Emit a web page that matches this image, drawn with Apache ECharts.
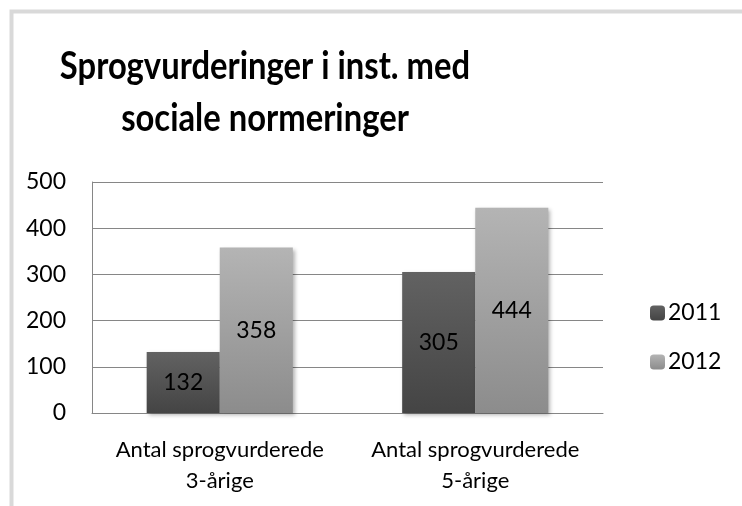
<!DOCTYPE html>
<html>
<head>
<meta charset="utf-8">
<script src="https://cdn.jsdelivr.net/npm/echarts@6/dist/echarts.min.js"></script>
<style>
html,body{margin:0;padding:0;background:#fff;}
#c{width:742px;height:506px;}
</style>
</head>
<body>
<div id="c"></div>
<script>
const titleText = 'Sprogvurderinger i inst. med\nsociale normeringer';
const categories = ['Antal sprogvurderede\n3-årige', 'Antal sprogvurderede\n5-årige'];
const seriesNames = ['2011', '2012'];
const values2011 = [132, 305];
const values2012 = [358, 444];
const yTicks = {min: 0, max: 500, interval: 100};

const FONT = 'Lato, "Open Sans", sans-serif';
const chart = echarts.init(document.getElementById('c'));
function grad(top, bottom) {
  return new echarts.graphic.LinearGradient(0, 0, 0, 1, [
    {offset: 0, color: top}, {offset: 1, color: bottom}
  ]);
}
const colors = [grad('#626262', '#444444'), grad('#b4b4b4', '#8c8c8c')];
const labelCfg = {show: true, position: 'inside', color: '#000', fontSize: 23, fontFamily: FONT};
chart.setOption({
  animation: false,
  backgroundColor: '#fff',
  graphic: [{
    type: 'rect', left: 9, top: 9, z: -10,
    shape: {width: 800, height: 600},
    style: {fill: 'none', stroke: '#d9d9d9', lineWidth: 4}
  }, {
    type: 'text', x: 265, y: 40, scaleX: 0.84,
    style: {
      text: titleText, fill: '#000', align: 'center', verticalAlign: 'top',
      fontFamily: FONT, fontWeight: 'bold', fontSize: 39, lineHeight: 52
    }
  }],
  legend: {
    orient: 'vertical', left: 645, top: 296,
    itemWidth: 15, itemHeight: 15, itemGap: 25,
    data: seriesNames,
    textStyle: {fontFamily: FONT, fontSize: 23, lineHeight: 24, color: '#000', padding: [0,0,0,-2]}
  },
  grid: {left: 92, right: 139, top: 182, bottom: 93},
  xAxis: {
    type: 'category', data: categories,
    axisLine: {lineStyle: {color: '#868686', width: 1}},
    axisTick: {show: false},
    axisLabel: {fontFamily: FONT, fontSize: 22, lineHeight: 31, color: '#000', margin: 21, interval: 0}
  },
  yAxis: {
    type: 'value', min: yTicks.min, max: yTicks.max, interval: yTicks.interval,
    axisLine: {show: true, lineStyle: {color: '#868686', width: 1}},
    axisTick: {show: false},
    splitLine: {lineStyle: {color: '#868686', width: 1}},
    axisLabel: {fontFamily: FONT, fontSize: 23, color: '#000', margin: 26}
  },
  series: [
    {name: seriesNames[0], type: 'bar', data: values2011, barWidth: '28.6%', barGap: '0%',
     itemStyle: {color: colors[0], shadowBlur: 4, shadowOffsetX: 2, shadowOffsetY: 2, shadowColor: 'rgba(0,0,0,0.3)'},
     label: labelCfg},
    {name: seriesNames[1], type: 'bar', data: values2012, barWidth: '28.6%', barGap: '0%',
     itemStyle: {color: colors[1], shadowBlur: 4, shadowOffsetX: 2, shadowOffsetY: 2, shadowColor: 'rgba(0,0,0,0.3)'},
     label: labelCfg}
  ]
});
</script>
</body>
</html>
